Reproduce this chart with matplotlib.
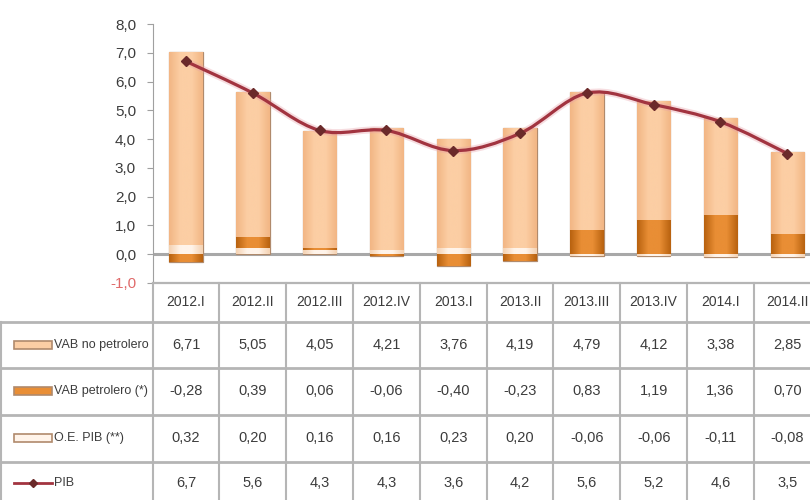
import matplotlib
matplotlib.use("Agg")
import matplotlib.pyplot as plt
import numpy as np
from matplotlib.path import Path
from matplotlib.patches import PathPatch, Rectangle
from matplotlib.colors import LinearSegmentedColormap
from matplotlib.lines import Line2D
from matplotlib.transforms import blended_transform_factory

plt.rcParams["font.family"] = ["Liberation Sans", "DejaVu Sans"]

quarters = ["2012.I", "2012.II", "2012.III", "2012.IV", "2013.I",
            "2013.II", "2013.III", "2013.IV", "2014.I", "2014.II"]
vab_no_petrolero = [6.71, 5.05, 4.05, 4.21, 3.76, 4.19, 4.79, 4.12, 3.38, 2.85]
vab_petrolero = [-0.28, 0.39, 0.06, -0.06, -0.40, -0.23, 0.83, 1.19, 1.36, 0.70]
oe_pib = [0.32, 0.20, 0.16, 0.16, 0.23, 0.20, -0.06, -0.06, -0.11, -0.08]
pib = [6.7, 5.6, 4.3, 4.3, 3.6, 4.2, 5.6, 5.2, 4.6, 3.5]

row_labels = ["VAB no petrolero", "VAB petrolero (*)", "O.E. PIB (**)", "PIB"]
yticks = [-1, 0, 1, 2, 3, 4, 5, 6, 7, 8]

TXT = "#3C3C3C"
GRID = "#B5B5B5"

# colours: (edge, centre) for the cylinder-like gradient
styles = {
    "oe": ("#F4D2B2", "#FFF4EA"),
    "pet": ("#B8620F", "#E98E35"),
    "nopet": ("#F2B684", "#FCCEA4"),
}


def gradient_bars(ax, x, heights, bottoms, key, width=0.5):
    edge, centre = styles[key]
    cmap = LinearSegmentedColormap.from_list(key, [edge, centre, centre, edge])
    grad = np.linspace(0, 1, 64).reshape(1, -1)
    bars = ax.bar(x, heights, width, bottom=bottoms, color=centre,
                  edgecolor="#B08A6C", linewidth=0.9, zorder=2)
    for b in bars:
        x0, y0 = b.get_x(), b.get_y()
        w, h = b.get_width(), b.get_height()
        if h == 0:
            continue
        im = ax.imshow(grad, extent=[x0, x0 + w, min(y0, y0 + h), max(y0, y0 + h)],
                       cmap=cmap, aspect="auto", zorder=2.5, interpolation="bicubic")
        im.set_clip_path(b)
    return bars


fig = plt.figure(figsize=(8.1, 5.0), dpi=100)
ax = fig.add_axes([0.1885, 0.434, 0.8115, 0.518])

x = np.arange(len(quarters))
series = [("oe", oe_pib), ("pet", vab_petrolero), ("nopet", vab_no_petrolero)]
pos = np.zeros(len(x))
neg = np.zeros(len(x))
for key, vals in series:
    vals = np.array(vals)
    bottoms = np.where(vals >= 0, pos, neg)
    gradient_bars(ax, x, vals, bottoms, key)
    pos = pos + np.where(vals >= 0, vals, 0)
    neg = neg + np.where(vals < 0, vals, 0)

# smoothed PIB line (cubic Bezier through the points)
pts = np.column_stack([x, pib]).astype(float)
ext = np.vstack([pts[0], pts, pts[-1]])
verts = [tuple(pts[0])]
codes = [Path.MOVETO]
for i in range(1, len(ext) - 2):
    p0, p1, p2, p3 = ext[i - 1], ext[i], ext[i + 1], ext[i + 2]
    c1 = p1 + (p2 - p0) / 6.0
    c2 = p2 - (p3 - p1) / 6.0
    verts += [tuple(c1), tuple(c2), tuple(p2)]
    codes += [Path.CURVE4] * 3
curve = Path(verts, codes)
ax.add_patch(PathPatch(curve, fill=False, edgecolor="#E8A0A8", lw=5, alpha=0.35, zorder=4))
ax.add_patch(PathPatch(curve, fill=False, edgecolor="#A23440", lw=2.3, zorder=5))
ax.plot(x, pib, linestyle="none", marker="D", markersize=5, color="#6B2A2A", zorder=6)

ax.axhline(0, color="#A8A8A8", lw=2.2, zorder=1)
ax.set_xlim(-0.5, 9.34)
ax.set_ylim(-1, 8)
ax.set_yticks(yticks)
ax.set_yticklabels([f"{v:.1f}".replace(".", ",") for v in yticks], fontsize=11, color=TXT)
ax.get_yticklabels()[0].set_color("#E06A6A")
ax.tick_params(axis="y", length=4, color="#A0A0A0", pad=8)
ax.set_xticks([])
for s in ["top", "right"]:
    ax.spines[s].set_visible(False)
ax.spines["left"].set_color("#A0A0A0")
ax.spines["bottom"].set_color(GRID)
ax.spines["bottom"].set_linewidth(1.6)

# data table
tax = fig.add_axes([0, 0, 1, 0.434])
tax.set_xlim(0, 810)
tax.set_ylim(500, 283)
tax.axis("off")
tr = blended_transform_factory(ax.transData, tax.transData)

for yl in [322, 368, 415, 462]:
    tax.plot([0, 810], [yl, yl], color=GRID, lw=2, clip_on=False)
tax.plot([1, 1], [322, 500], color=GRID, lw=1.5)
for i in range(len(quarters) + 1):
    tax.plot([i - 0.5, i - 0.5], [283, 500], color=GRID, lw=1.5, transform=tr, clip_on=False)

row_y = [345, 391, 438, 483]
for i, q in enumerate(quarters):
    tax.text(i, 302, q, transform=tr, ha="center", va="center", fontsize=10, color=TXT)
    for r, vals, fmt in [(0, vab_no_petrolero, "{:.2f}"), (1, vab_petrolero, "{:.2f}"),
                         (2, oe_pib, "{:.2f}"), (3, pib, "{:.1f}")]:
        tax.text(i, row_y[r], fmt.format(vals[i]).replace(".", ","), transform=tr,
                 ha="center", va="center", fontsize=10.5, color=TXT)

for r, lab in enumerate(row_labels):
    tax.text(54, row_y[r], lab, ha="left", va="center", fontsize=9, color=TXT)

for r, key in enumerate(["nopet", "pet", "oe"]):
    edge, centre = styles[key]
    tax.add_patch(Rectangle((14, row_y[r] - 4), 38, 8, facecolor=centre,
                            edgecolor="#B08A6C", lw=1.2))
tax.add_line(Line2D([14, 52], [row_y[3], row_y[3]], color="#A23440", lw=2))
tax.plot([33], [row_y[3]], marker="D", markersize=4, color="#6B2A2A")

fig.savefig("out.png", dpi=100)
